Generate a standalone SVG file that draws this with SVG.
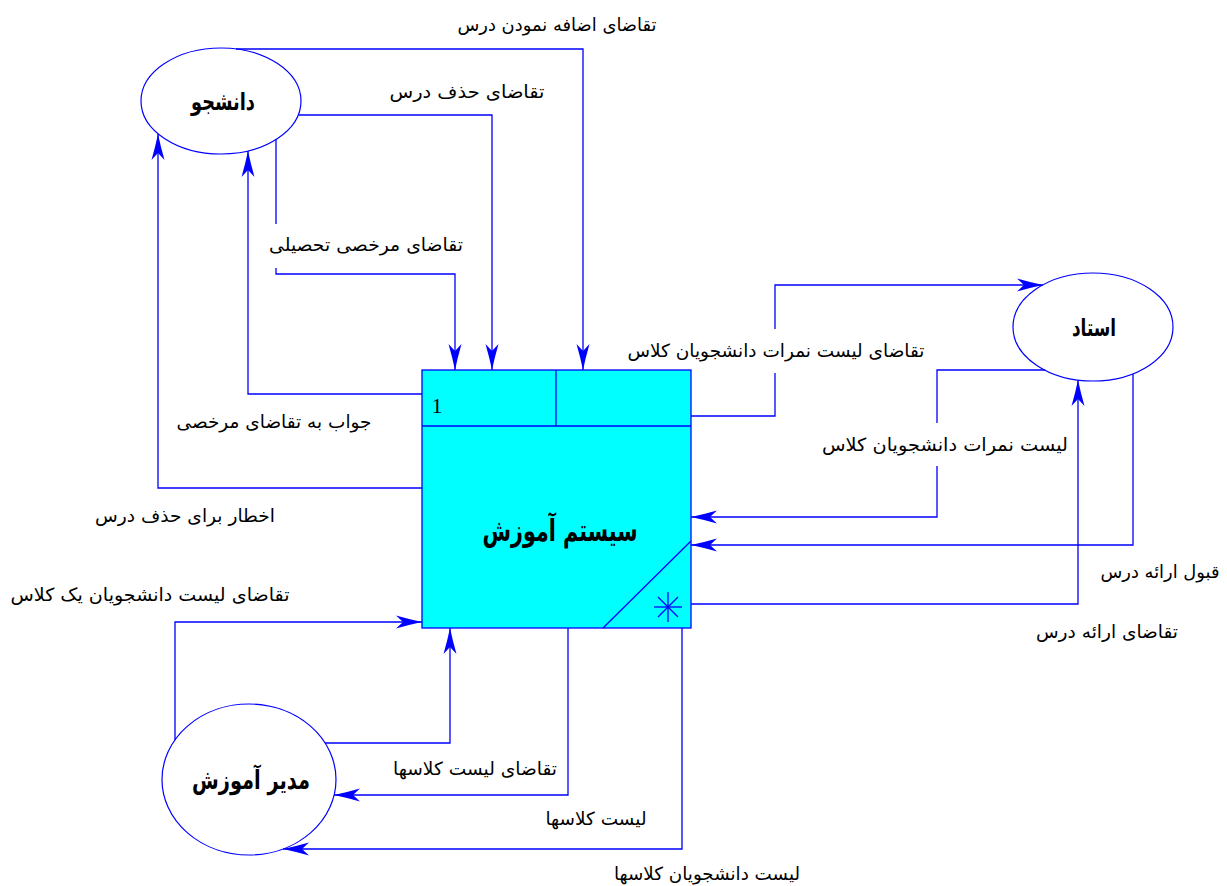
<svg xmlns="http://www.w3.org/2000/svg" width="1227" height="886" viewBox="0 0 1227 886">
<style>
.ln{fill:none;stroke:#0000ff;stroke-width:1.3}
.ar{marker-end:url(#arr)}
.ent{fill:#ffffff;stroke:#0000ff;stroke-width:1.2}
.lbl{font-family:"DejaVu Sans",sans-serif;font-size:18px;fill:#000;text-anchor:middle;direction:rtl}
.ttl{font-family:"DejaVu Sans",sans-serif;font-weight:bold;fill:#000;text-anchor:middle;direction:rtl}
</style>
<defs>
<marker id="arr" viewBox="-27 -8 28 16" refX="0" refY="0" markerWidth="28" markerHeight="16" markerUnits="userSpaceOnUse" orient="auto">
<path d="M0,0 Q-12,-2.5 -26,-6.5 L-19,0 L-26,6.5 Q-12,2.5 0,0 Z" fill="#0000ff"/>
</marker>
</defs>
<g id="process">
<rect x="422" y="370" width="269" height="258" fill="#00ffff" stroke="#0000ff" stroke-width="1.3"/>
<line class="ln" x1="422" y1="426" x2="691" y2="426"/>
<line class="ln" x1="556" y1="370" x2="556" y2="426"/>
<line class="ln" x1="603" y1="628" x2="691" y2="541"/>
<g class="ln" stroke-width="1">
<line x1="654" y1="607" x2="682" y2="607"/>
<line x1="668" y1="592" x2="668" y2="622"/>
<line x1="658" y1="597" x2="678" y2="617"/>
<line x1="658" y1="617" x2="678" y2="597"/>
</g>
<text x="437" y="413" font-family="Liberation Serif, serif" font-size="22" text-anchor="middle">1</text>
<text class="ttl" x="560" y="541" font-size="30" textLength="155" lengthAdjust="spacingAndGlyphs">سیستم آموزش</text>
</g>
<g id="student">
<ellipse class="ent" cx="221" cy="101" rx="80" ry="53"/>
<text class="ttl" x="223" y="110" font-size="24" textLength="64" lengthAdjust="spacingAndGlyphs">دانشجو</text>
</g>
<g id="teacher">
<ellipse class="ent" cx="1093" cy="327" rx="80" ry="54"/>
<text class="ttl" x="1094" y="336" font-size="24" textLength="44" lengthAdjust="spacingAndGlyphs">استاد</text>
</g>
<g id="manager">
<ellipse class="ent" cx="249" cy="779.5" rx="87" ry="75.5"/>
<text class="ttl" x="251" y="789" font-size="26" textLength="118" lengthAdjust="spacingAndGlyphs">مدیر آموزش</text>
</g>
<g id="connectors">
<path class="ln ar" d="M236,49 H583 V370"/>
<path class="ln ar" d="M299,115 H492 V370"/>
<path class="ln ar" d="M276,139 V224 M276,268 V274 H455 V370"/>
<path class="ln ar" d="M422,394 H248 V151"/>
<path class="ln ar" d="M422,488 H158 V134"/>
<path class="ln ar" d="M691,416 H775 V373 M775,329 V285 H1043"/>
<path class="ln ar" d="M1045,370 H937 V423 M937,466 V517 H691"/>
<path class="ln ar" d="M1133,374 V545 H691"/>
<path class="ln ar" d="M691,604 H1078 V380"/>
<path class="ln ar" d="M175,740 V622 H422"/>
<path class="ln ar" d="M325,743 H450 V628"/>
<path class="ln ar" d="M568,628 V795 H334"/>
<path class="ln ar" d="M682,628 V849 H283"/>
</g>
<g id="labels">
<text class="lbl" x="557" y="31" textLength="199" lengthAdjust="spacingAndGlyphs">تقاضای اضافه نمودن درس</text>
<text class="lbl" x="467" y="98" textLength="155" lengthAdjust="spacingAndGlyphs">تقاضای حذف درس</text>
<text class="lbl" x="366" y="251" textLength="194" lengthAdjust="spacingAndGlyphs">تقاضای مرخصی تحصیلی</text>
<text class="lbl" x="274" y="428" textLength="195" lengthAdjust="spacingAndGlyphs">جواب به تقاضای مرخصی</text>
<text class="lbl" x="185" y="522" textLength="180" lengthAdjust="spacingAndGlyphs">اخطار برای حذف درس</text>
<text class="lbl" x="776" y="357" textLength="297" lengthAdjust="spacingAndGlyphs">تقاضای لیست نمرات دانشجویان کلاس</text>
<text class="lbl" x="945" y="451" textLength="246" lengthAdjust="spacingAndGlyphs">لیست نمرات دانشجویان کلاس</text>
<text class="lbl" x="1160" y="578" textLength="119" lengthAdjust="spacingAndGlyphs">قبول ارائه درس</text>
<text class="lbl" x="1107" y="638" textLength="142" lengthAdjust="spacingAndGlyphs">تقاضای ارائه درس</text>
<text class="lbl" x="150" y="601" textLength="279" lengthAdjust="spacingAndGlyphs">تقاضای لیست دانشجویان یک کلاس</text>
<text class="lbl" x="475" y="775" textLength="164" lengthAdjust="spacingAndGlyphs">تقاضای لیست کلاسها</text>
<text class="lbl" x="596" y="825" textLength="101" lengthAdjust="spacingAndGlyphs">لیست کلاسها</text>
<text class="lbl" x="707" y="880" textLength="186" lengthAdjust="spacingAndGlyphs">لیست دانشجویان کلاسها</text>
</g>
</svg>
